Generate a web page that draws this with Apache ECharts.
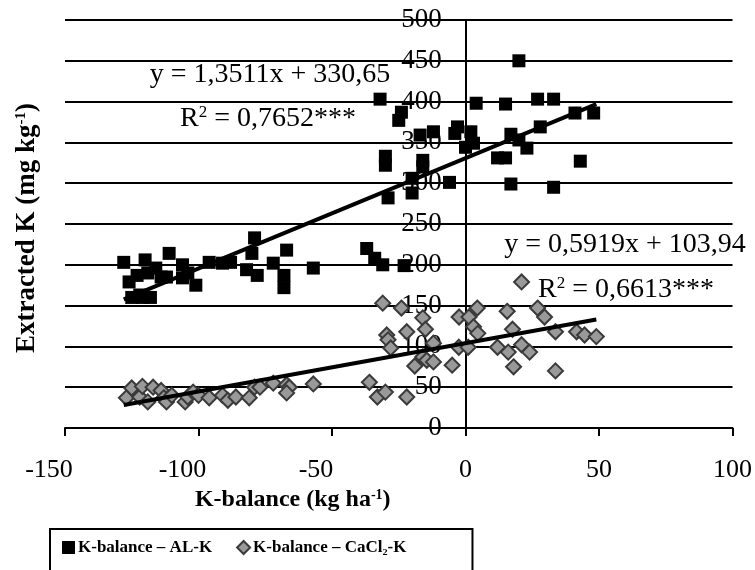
<!DOCTYPE html>
<html>
<head>
<meta charset="utf-8">
<script src="https://cdn.jsdelivr.net/npm/echarts@6/dist/echarts.min.js"></script>
<style>html,body{margin:0;padding:0;background:#fff}#c{width:755px;height:570px}</style>
</head>
<body>
<div id="c"></div>
<script>
// K-balance vs AL-K (black squares)
const alK = [
  [-128,203],[-126,179],[-125,160],[-121,160],[-118,160],[-122,163],[-120,206],[-119,190],[-116,196],[-114,185],
  [-111,214],[-112,185],[-123,187],[-106,200],[-106,184],[-104,190],[-101,175],[-96,203],[-91,202],[-88,203],
  [-82,194],[-79,233],[-80,214],[-78,187],[-72,202],[-68,187],[-68,172],[-67,218],[-57,196],
  [-37,220],[-34,208],[-31,200],[-23,199],[-32,403],[-24,387],[-25,377],[-30,333],[-30,322],[-17,359],[-12,363],
  [-16,328],[-16,320],[-20,306],[-29,282],[-20,288],[-6,301],[-3,369],[-4,361],[2,363],[0,344],[3,349],[4,398],
  [20,450],[15,397],[27,403],[33,403],[41,386],[48,386],[28,369],[17,360],[20,353],[23,343],[12,331],[15,331],
  [43,327],[17,299],[33,295]
];
// K-balance vs CaCl2-K (grey diamonds)
const caclK = [
  [-127,37],[-125,49],[-122,38],[-121,51],[-119,32],[-117,50],[-114,46],[-113,37],[-112,32],[-110,40],
  [-105,32],[-104,38],[-102,44],[-100,40],[-96,37],[-91,40],[-89,34],[-86,38],[-81,37],[-79,50],[-77,50],
  [-72,55],[-67,53],[-66,50],[-67,43],[-57,54],
  [-36,56],[-33,38],[-30,44],[-22,38],[-31,153],[-24,147],[-16,135],[-15,121],[-29.5,114],[-29,108],[-22,118],
  [-28,98],[-12,104],[-16,87],[-14.5,83],[-12,81],[-19,76],[-5,77],[-2.5,99],[1,99],[-2.4,136],[1.3,136],
  [4.4,147],[3,124],[4.6,116],
  [21,179],[15.6,143],[27,147],[29.6,136],[17.6,121],[33.7,118],[41.6,118],[44.6,114],[49,112],[12,99],
  [16,93],[21,102],[24,93],[18,75],[33.7,70]
];
// linear trend lines (slope, intercept) over the data range
const trendAL = {slope: 1.3511, intercept: 330.65};
const trendCa = {slope: 0.5919, intercept: 103.94};
const trendRange = [-128, 49];
const xTicks = [-150, -100, -50, 0, 50, 100];
const yTicks = [0, 50, 100, 150, 200, 250, 300, 350, 400, 450, 500];
const seriesNames = ['K-balance – AL-K', 'K-balance – CaCl₂-K'];

const line = t => trendRange.map(x => [x, t.slope * x + t.intercept]);
const serif = 'Liberation Serif';

const W = 755, GL = 65, GR = 22;
const xMin = xTicks[0], xMax = xTicks[xTicks.length-1];
// place the y axis at x = 0 (it crosses the plot in the middle)
const yAxisOffset = -((0 - xMin) / (xMax - xMin)) * (W - GL - GR);

const chart = echarts.init(document.getElementById('c'));
chart.setOption({
  animation: false,
  backgroundColor: '#fff',
  grid: {left: GL, right: GR, top: 20, bottom: 142, containLabel: false},
  xAxis: {
    type: 'value', min: xMin, max: xMax, interval: 50,
    axisLine: {show: true, lineStyle: {color: '#000', width: 2}},
    axisTick: {show: true, length: 8, lineStyle: {color: '#000', width: 2}},
    axisLabel: {color: '#000', fontFamily: serif, fontSize: 26, margin: 29,
      formatter: v => v < 0 ? '{neg|' + v + '}' : '{pos|' + v + '}',
      rich: {neg: {fontFamily: serif, fontSize: 26, color: '#000', padding: [0, 32, 0, 0]},
             pos: {fontFamily: serif, fontSize: 26, color: '#000'}}},
    splitLine: {show: false},
    name: 'K-balance (kg ha{sup|-1})',
    nameLocation: 'middle', nameGap: 58,
    nameTextStyle: {color: '#000', fontFamily: serif, fontWeight: 'bold', fontSize: 24, padding: [0, 212, 0, 0],
      rich: {sup: {fontFamily: serif, fontWeight: 'bold', fontSize: 14, verticalAlign: 'top', padding: [0,0,10,0]}}}
  },
  yAxis: {
    type: 'value', min: yTicks[0], max: yTicks[yTicks.length-1], interval: 50,
    position: 'left', offset: yAxisOffset,
    axisLine: {show: true, onZero: false, lineStyle: {color: '#000', width: 2}},
    axisTick: {show: true, length: 6, lineStyle: {color: '#000', width: 2}},
    axisLabel: {color: '#000', fontFamily: serif, fontSize: 27, margin: 24},
    splitLine: {show: true, lineStyle: {color: '#000', width: 2}}
  },
  legend: {
    data: seriesNames,
    left: 50, top: 529,
    orient: 'horizontal',
    borderColor: '#000', borderWidth: 2,
    padding: [10, 66, 30, 12],
    itemGap: 24, itemWidth: 13, itemHeight: 13,
    textStyle: {color: '#000', fontFamily: serif, fontWeight: 'bold', fontSize: 17, padding: [0,0,0,-2]}
  },
  graphic: [
    {type: 'text', rotation: Math.PI/2, x: 27, y: 228,
     style: {text: 'Extracted K (mg kg{sup|-1})', fill: '#000', font: 'bold 27px "Liberation Serif"',
       textAlign: 'center', textVerticalAlign: 'middle',
       rich: {sup: {fontFamily: serif, fontWeight: 'bold', fontSize: 15, verticalAlign: 'top', padding: [0,0,12,0]}}}},
    {type: 'text', x: 270, y: 75,
     style: {text: 'y = 1,3511x + 330,65', fill: '#000', font: '28px "Liberation Serif"', textAlign: 'center', textVerticalAlign: 'middle'}},
    {type: 'text', x: 268, y: 119,
     style: {text: 'R{sup|2} = 0,7652***', fill: '#000', font: '28px "Liberation Serif"', textAlign: 'center', textVerticalAlign: 'middle',
       rich: {sup: {fontFamily: serif, fontSize: 17, verticalAlign: 'top', padding: [0,0,12,0]}}}},
    {type: 'text', x: 625, y: 245,
     style: {text: 'y = 0,5919x + 103,94', fill: '#000', font: '28px "Liberation Serif"', textAlign: 'center', textVerticalAlign: 'middle'}},
    {type: 'text', x: 626, y: 290,
     style: {text: 'R{sup|2} = 0,6613***', fill: '#000', font: '28px "Liberation Serif"', textAlign: 'center', textVerticalAlign: 'middle',
       rich: {sup: {fontFamily: serif, fontSize: 17, verticalAlign: 'top', padding: [0,0,12,0]}}}}
  ],
  series: [
    {name: seriesNames[0], type: 'scatter', data: alK, symbol: 'rect', symbolSize: 13,
     itemStyle: {color: '#000', opacity: 1}, z: 3},
    {name: seriesNames[1], type: 'scatter', data: caclK, symbol: 'diamond', symbolSize: 15,
     itemStyle: {color: '#999999', borderColor: '#3a3a3a', borderWidth: 2, opacity: 1}, z: 3},
    {name: 'trendAL', type: 'line', data: line(trendAL), showSymbol: false, symbol: 'none',
     lineStyle: {color: '#000', width: 4}, z: 4, silent: true},
    {name: 'trendCa', type: 'line', data: line(trendCa), showSymbol: false, symbol: 'none',
     lineStyle: {color: '#000', width: 4}, z: 4, silent: true}
  ]
});
</script>
</body>
</html>
